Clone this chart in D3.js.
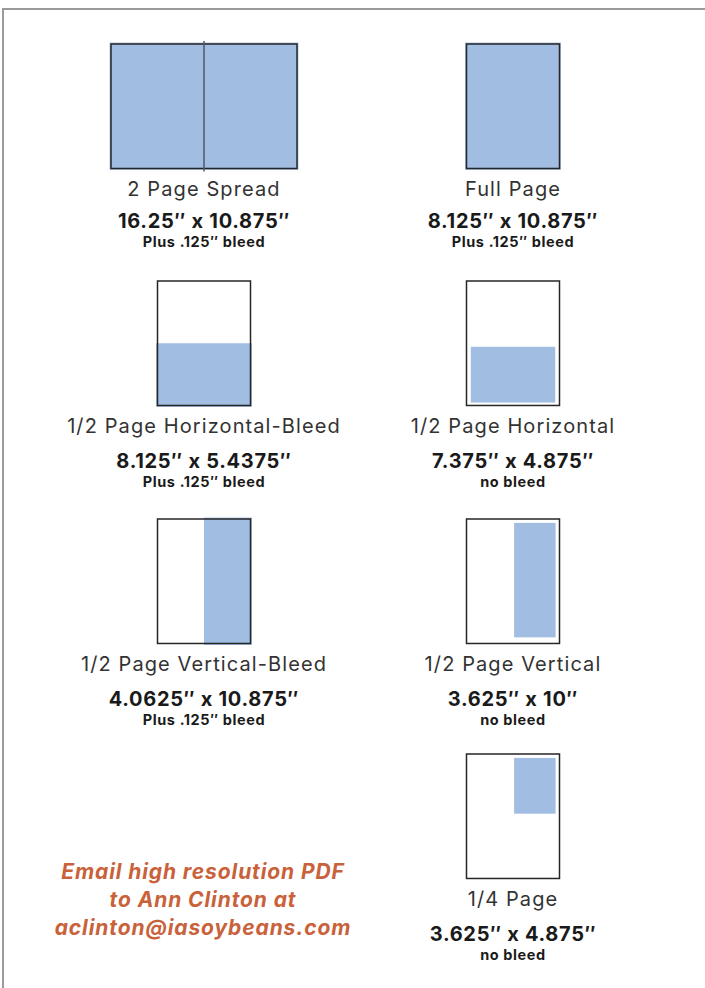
<!DOCTYPE html>
<html>
<head>
<meta charset="utf-8">
<script src="https://cdn.jsdelivr.net/npm/d3@7"></script>
<style>
  html, body { margin: 0; padding: 0; background: #fff; }
  svg { display: block; font-family: Inter, "Noto Sans", sans-serif; }
</style>
</head>
<body>
<div id="chart"></div>
<script>
// Ad sizes (inches)
const adNames = ['2 Page Spread', 'Full Page', '1/2 Page Horizontal-Bleed', '1/2 Page Horizontal',
  '1/2 Page Vertical-Bleed', '1/2 Page Vertical', '1/4 Page'];
const adWidths = [16.25, 8.125, 8.125, 7.375, 4.0625, 3.625, 3.625];
const adHeights = [10.875, 10.875, 5.4375, 4.875, 10.875, 10, 4.875];
const adNotes = ['Plus .125″ bleed', 'Plus .125″ bleed', 'Plus .125″ bleed', 'no bleed',
  'Plus .125″ bleed', 'no bleed', 'no bleed'];
const adBleed = [true, true, true, false, true, false, false];
const adAnchor = ['spread', 'full', 'bottom', 'bottom', 'right', 'right', 'top-right'];
const pageSize = [8.125, 10.875];
const bleed = 0.125;
const emailLines = ['Email high resolution PDF', 'to Ann Clinton at', 'aclinton@iasoybeans.com'];

const width = 705, height = 988;
const blue = '#a1bee2';

// inches -> px
const k = d3.scaleLinear().domain([0, pageSize[0]]).range([0, 93]);

// slot layout: column centre + page top
const colX = [204, 513];
const rowY = [44, 281, 519, 754];
const slots = [[0, 0], [1, 0], [0, 1], [1, 1], [0, 2], [1, 2], [1, 3]];

const svg = d3.select('#chart').append('svg')
  .attr('width', width)
  .attr('height', height);

// page frame
svg.append('path')
  .attr('d', `M${width},9 H3 V${height}`)
  .attr('fill', 'none')
  .attr('stroke', '#9a9a9a')
  .attr('stroke-width', 2);

const liveMargin = 0.34;

adNames.forEach((name, i) => {
  const [c, r] = slots[i];
  const cx = colX[c];
  const top = rowY[r];
  const spread = adAnchor[i] === 'spread';
  const pw = spread ? pageSize[0] * 2 : pageSize[0];
  const ph = pageSize[1];
  const x0 = cx - k(pw) / 2;
  const y0 = top;
  const g = svg.append('g');

  // ad area in inches, relative to page trim
  let ax, ay, aw = adWidths[i], ah = adHeights[i];
  const a = adAnchor[i];
  if (a === 'spread' || a === 'full') { ax = 0; ay = 0; }
  else if (a === 'bottom') { ax = (pw - aw) / 2; ay = adBleed[i] ? ph - ah : ph - ah - liveMargin * 0.75; }
  else if (a === 'right') { ax = adBleed[i] ? pw - aw : pw - aw - liveMargin; ay = adBleed[i] ? 0 : liveMargin; }
  else { ax = pw - aw - liveMargin; ay = liveMargin; }

  let bx0 = ax, by0 = ay, bx1 = ax + aw, by1 = ay + ah;
  if (adBleed[i]) {
    if (bx0 <= 0) bx0 -= bleed;
    if (by0 <= 0) by0 -= bleed;
    if (bx1 >= pw) bx1 += bleed;
    if (by1 >= ph) by1 += bleed;
  }

  g.append('rect')
    .attr('x', x0 + k(bx0))
    .attr('y', y0 + k(by0))
    .attr('width', k(bx1 - bx0))
    .attr('height', k(by1 - by0))
    .attr('fill', blue);

  g.append('rect')
    .attr('x', x0)
    .attr('y', y0)
    .attr('width', k(pw))
    .attr('height', k(ph))
    .attr('fill', 'none')
    .attr('stroke', '#262626')
    .attr('stroke-width', 1.5);

  if (spread) {
    g.append('line')
      .attr('x1', cx).attr('x2', cx)
      .attr('y1', y0 - 3).attr('y2', y0 + k(ph) + 3)
      .attr('stroke', '#505866')
      .attr('stroke-width', 1.5);
  }

  const bottom = y0 + k(ph);
  g.append('text')
    .attr('x', cx).attr('y', bottom + 21)
    .attr('dy', '0.35em')
    .attr('text-anchor', 'middle')
    .style('font-size', '20px')
    .style('letter-spacing', '1.1px')
    .style('fill', '#333')
    .text(name);

  g.append('text')
    .attr('x', cx).attr('y', bottom + (r === 0 ? 53 : 56))
    .attr('dy', '0.35em')
    .attr('text-anchor', 'middle')
    .style('font-size', '20px')
    .style('letter-spacing', '0.7px')
    .style('font-weight', '700')
    .style('fill', '#1a1a1a')
    .text(`${adWidths[i]}″ x ${adHeights[i]}″`);

  g.append('text')
    .attr('x', cx).attr('y', bottom + (r === 0 ? 73 : 76))
    .attr('dy', '0.35em')
    .attr('text-anchor', 'middle')
    .style('font-size', '14.5px')
    .style('letter-spacing', '0.6px')
    .style('font-weight', '700')
    .style('fill', '#1a1a1a')
    .text(adNotes[i]);
});

// contact note
svg.append('g')
  .selectAll('text')
  .data(emailLines)
  .enter()
  .append('text')
  .attr('x', 203)
  .attr('y', (d, i) => 872 + i * 28)
  .attr('dy', '0.35em')
  .attr('text-anchor', 'middle')
  .style('font-size', '21px')
  .style('letter-spacing', '0.9px')
  .style('font-weight', '700')
  .style('font-style', 'italic')
  .style('fill', '#c9613a')
  .text(d => d);
</script>
</body>
</html>
